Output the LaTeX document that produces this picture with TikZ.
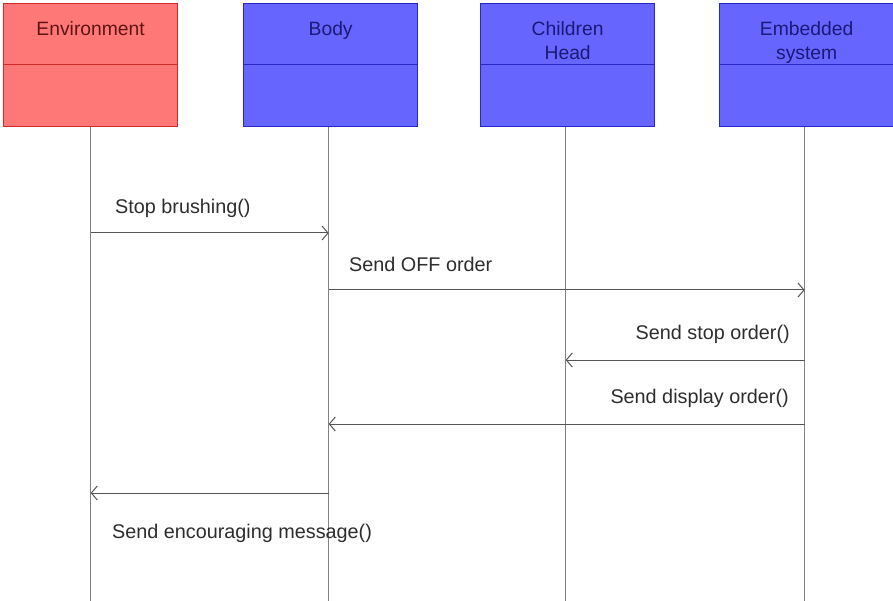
\documentclass[tikz,border=0pt]{standalone}
\usepackage{fontspec}
\setmainfont{Liberation Sans}
\usetikzlibrary{arrows.meta}
\definecolor{redfill}{RGB}{255,120,120}
\definecolor{redline}{RGB}{215,40,40}
\definecolor{redtext}{RGB}{95,20,20}
\definecolor{bluefill}{RGB}{102,102,255}
\definecolor{blueline}{RGB}{40,40,200}
\definecolor{bluetext}{RGB}{25,25,120}
\definecolor{lifegray}{RGB}{130,130,130}
\definecolor{msggray}{RGB}{85,85,85}
\definecolor{labgray}{RGB}{45,45,45}
\begin{document}
\begin{tikzpicture}[x=1pt,y=-1pt,
  actorbox/.style={draw, line width=1.3pt, minimum width=174pt, minimum height=123pt, inner sep=0pt, anchor=north west},
  envbox/.style={actorbox, fill=redfill, draw=redline},
  bluebox/.style={actorbox, fill=bluefill, draw=blueline},
  title/.style={font=\fontsize{19.3}{24}\selectfont, align=center, anchor=north, inner sep=0pt},
  lifeline/.style={draw=lifegray, line width=1.4pt},
  msg/.style={draw=msggray, line width=1pt, -{Straight Barb[length=6pt,width=14pt]}},
  msglabel/.style={font=\fontsize{19.8}{24}\selectfont, text=labgray, inner sep=0pt}
]
\useasboundingbox (0,0) rectangle (893,601);

% actor boxes
\node[envbox]  (env)  at (3,3)   {};
\node[bluebox] (body) at (243,3) {};
\node[bluebox] (head) at (480,3) {};
\node[bluebox] (emb)  at (719,3) {};

% dividers
\foreach \b/\c in {env/redline, body/blueline, head/blueline, emb/blueline}
  \draw[\c, line width=0.8pt] (\b.west |- 0,64) -- (\b.east |- 0,64);

% titles
\node[title, text=redtext]  (envt)  at (env.north  |- 0,21) {Environment};
\node[title, text=bluetext] (bodyt) at (body.north |- 0,21) {Body};
\node[title, text=bluetext] (headt) at (head.north |- 0,21) {Children\\Head};
\node[title, text=bluetext] (embt)  at (emb.north  |- 0,21) {Embedded\\system};

% lifeline tops (slightly left of box centres, as in the reference)
\coordinate (envtop)  at (env.south);
\coordinate (bodytop) at ([xshift=-2pt]body.south);
\coordinate (headtop) at ([xshift=-2pt]head.south);
\coordinate (embtop)  at ([xshift=-2pt]emb.south);

% lifeline ends
\coordinate (envend)  at (envtop  |- 0,601);
\coordinate (bodyend) at (bodytop |- 0,601);
\coordinate (headend) at (headtop |- 0,601);
\coordinate (embend)  at (embtop  |- 0,601);

\draw[lifeline] (envtop)  -- (envend);
\draw[lifeline] (bodytop) -- (bodyend);
\draw[lifeline] (headtop) -- (headend);
\draw[lifeline] (embtop)  -- (embend);

% message anchor points
\coordinate (e1) at (envtop  |- 0,233);
\coordinate (b1) at (bodytop |- 0,233);
\coordinate (b2) at (bodytop |- 0,290);
\coordinate (m2) at (embtop  |- 0,290);
\coordinate (m3) at (embtop  |- 0,360);
\coordinate (h3) at (headtop |- 0,360);
\coordinate (m4) at (embtop  |- 0,424);
\coordinate (b4) at (bodytop |- 0,424);
\coordinate (b5) at (bodytop |- 0,493);
\coordinate (e5) at (envtop  |- 0,493);

\draw[msg] (e1) -- (b1);
\draw[msg] (b2) -- (m2);
\draw[msg] (m3) -- (h3);
\draw[msg] (m4) -- (b4);
\draw[msg] (b5) -- (e5);

% labels
\node[msglabel, anchor=west] (l1) at (115,208) {Stop brushing()};
\node[msglabel, anchor=west] (l2) at (349,264) {Send OFF order};
\node[msglabel, anchor=east] (l3) at (790,334) {Send stop order()};
\node[msglabel, anchor=east] (l4) at (789,398) {Send display order()};
\node[msglabel, anchor=west] (l5) at (112,533) {Send encouraging message()};
\end{tikzpicture}
\end{document}
